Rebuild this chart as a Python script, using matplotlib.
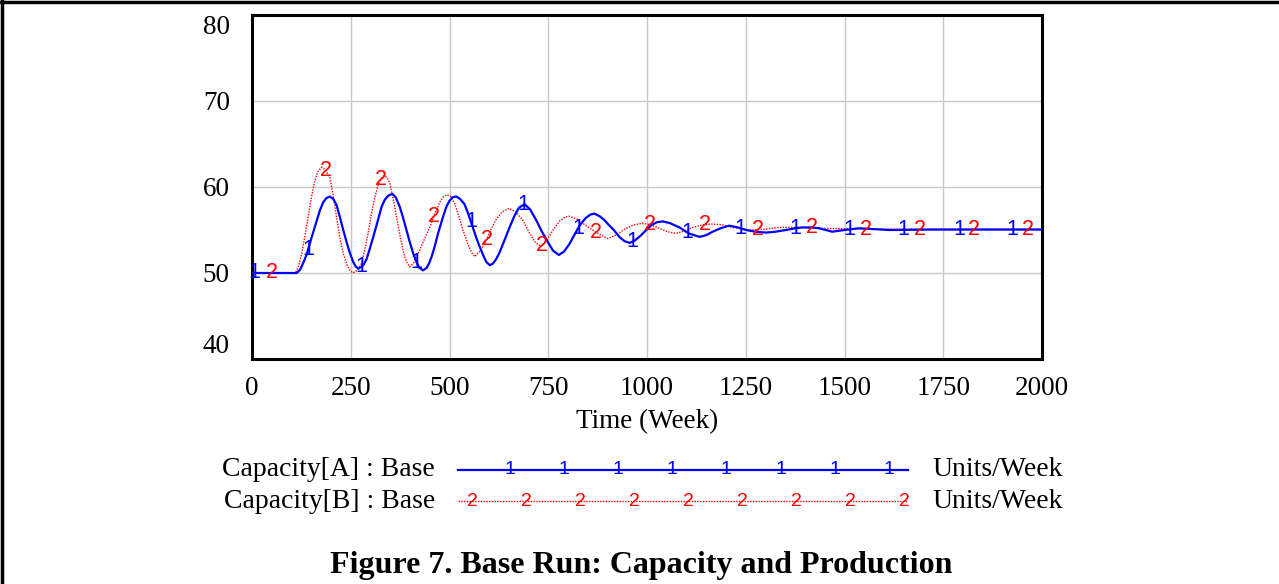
import numpy as np
import matplotlib
matplotlib.use("Agg")
import matplotlib.pyplot as plt
from matplotlib.lines import Line2D

# Capacity[A] : Base (blue, solid)
t_a = [0, 113, 122, 130, 138, 150, 164, 172, 180, 188, 197, 206, 214, 222, 231, 240,
       248, 256, 262, 269, 276, 283, 290, 298, 307, 318, 328, 336, 345, 355, 364, 374,
       382, 391, 400, 408, 416, 424, 433, 442, 448, 454, 462, 471, 482, 492, 500, 508,
       517, 527, 538, 548, 559, 567, 576, 585, 593, 602, 610, 618, 627, 640, 652, 664,
       676, 690, 704, 720, 734, 749, 762, 777, 790, 804, 817, 829, 845, 857, 867, 880,
       891, 901, 916, 930, 943, 956, 970, 985, 998, 1012, 1025, 1040, 1058, 1082, 1106,
       1133, 1150, 1166, 1186, 1208, 1230, 1251, 1275, 1301, 1325, 1352, 1375, 1394,
       1415, 1436, 1469, 1500, 1537, 1575, 1613, 1722, 2000]
cap_a = [50.0, 50.0, 50.4, 51.2, 52.1, 54.0, 56.1, 57.3, 58.2, 58.7, 58.9, 58.6, 57.9,
         56.6, 55.0, 53.5, 52.3, 51.3, 50.8, 50.5, 50.7, 51.0, 51.6, 52.8, 54.2, 56.0,
         57.7, 58.5, 59.0, 59.2, 58.8, 57.7, 56.5, 55.0, 53.5, 52.3, 51.3, 50.6, 50.3,
         50.6, 51.1, 51.8, 53.0, 54.6, 56.3, 57.7, 58.4, 58.8, 58.9, 58.6, 58.0, 56.8,
         55.3, 54.2, 53.1, 52.1, 51.3, 50.9, 51.1, 51.6, 52.4, 53.9, 55.3, 56.6, 57.6,
         58.0, 57.4, 56.1, 54.8, 53.6, 52.6, 52.1, 52.5, 53.4, 54.5, 55.5, 56.4, 56.8,
         56.9, 56.6, 56.2, 55.7, 55.0, 54.2, 53.7, 53.5, 53.8, 54.4, 55.0, 55.6, 55.9,
         56.0, 55.8, 55.3, 54.6, 54.2, 54.4, 54.8, 55.2, 55.5, 55.3, 55.0, 54.8, 54.7,
         54.8, 55.0, 55.2, 55.3, 55.3, 55.2, 54.8, 55.0, 55.2, 55.1, 55.0, 55.05, 55.05]

# Capacity[B] : Base (red, dotted)
t_b = [0, 110, 118, 126, 134, 142, 150, 159, 167, 176, 186, 197, 205, 214, 222, 231,
       240, 248, 256, 266, 277, 285, 294, 302, 311, 320, 327, 334, 342, 349, 357, 366,
       374, 382, 390, 399, 410, 425, 437, 450, 462, 475, 485, 494, 503, 513, 523, 534,
       548, 556, 564, 578, 593, 605, 619, 633, 650, 668, 686, 703, 718, 732, 746, 762,
       778, 792, 804, 825, 846, 872, 901, 925, 947, 968, 989, 1010, 1031, 1052, 1074,
       1095, 1116, 1140, 1166, 1190, 1217, 1240, 1267, 1300, 1335, 1385, 1436, 1550,
       1700, 2000]
cap_b = [50.0, 50.0, 50.8, 52.3, 54.3, 56.5, 58.7, 60.7, 61.8, 62.3, 62.0, 61.1, 59.2,
         56.5, 54.2, 52.3, 51.0, 50.3, 50.0, 50.3, 51.1, 52.6, 54.6, 56.8, 58.8, 60.3,
         61.0, 61.3, 61.1, 60.4, 58.7, 56.5, 54.5, 52.7, 51.4, 50.7, 51.2, 52.7, 54.0,
         55.3, 56.8, 58.2, 58.9, 59.1, 58.9, 58.1, 56.7, 55.0, 53.2, 52.4, 51.9, 52.6,
         53.8, 55.1, 56.3, 57.1, 57.5, 57.1, 56.1, 54.6, 53.5, 53.1, 53.8, 55.0, 56.0,
         56.5, 56.6, 56.2, 55.5, 54.7, 54.0, 54.5, 55.2, 55.6, 55.8, 55.6, 55.2, 54.8,
         54.6, 54.9, 55.3, 55.6, 55.7, 55.6, 55.3, 55.1, 55.0, 55.1, 55.3, 55.3, 55.2,
         55.1, 55.1, 55.1]

# where the Vensim style "1" / "2" markers sit along the curves
mark_a = [5, 142, 278, 417, 554, 688, 825, 964, 1102, 1236, 1375, 1512, 1648, 1790, 1926]
mark_b = [51, 187, 326, 460, 594, 733, 870, 1007, 1146, 1280, 1418, 1555, 1691, 1828, 1964]

x_ticks = [0, 250, 500, 750, 1000, 1250, 1500, 1750, 2000]
y_ticks = [40, 50, 60, 70, 80]

W, H = 1279, 584
fig = plt.figure(figsize=(W / 100, H / 100), dpi=100)
serif = "Liberation Serif"
sans = "Liberation Sans"

ax = fig.add_axes([252 / W, 1 - 359 / H, (1042 - 252) / W, (359 - 15) / H])
ax.plot(t_a, cap_a, color="#0000ff", lw=1.6, zorder=3)
ax.plot(t_b, cap_b, color="#ff0000", lw=1.0, ls=(0, (1, 1)), zorder=2)

for t in mark_a:
    ax.text(t, np.interp(t, t_a, cap_a), "1", color="#0000ff", family=sans,
            fontsize=15.5, ha="center", va="center", zorder=4)
for t in mark_b:
    ax.text(t, np.interp(t, t_b, cap_b), "2", color="#ff0000", family=sans,
            fontsize=15.5, ha="center", va="center", zorder=4)

ax.set_xlim(0, 2000)
ax.set_ylim(40, 80)
ax.set_xticks(x_ticks)
ax.set_yticks(y_ticks)
ax.grid(True, color="#c8c8c8", lw=1.0)
ax.set_axisbelow(True)
ax.tick_params(length=0, labelsize=19.5)
ax.tick_params(axis="y", pad=16)
ax.tick_params(axis="x", pad=12)
for lab in ax.get_xticklabels() + ax.get_yticklabels():
    lab.set_family(serif)
ylabs = ax.get_yticklabels()
ylabs[0].set_va("bottom")
ylabs[-1].set_va("top")
for s in ax.spines.values():
    s.set_linewidth(2.2)
ax.set_xlabel("Time (Week)", family=serif, fontsize=19.5, labelpad=6)

# legend, drawn in figure pixels
def fx(px):
    return px / W

def fy(py):
    return 1 - py / H

rows = [("Capacity[A] : Base", "#0000ff", "-", 1.6, "1", 510, 8, 470),
        ("Capacity[B] : Base", "#ff0000", (0, (1, 1)), 1.0, "2", 472, 9, 501)]
for label, col, ls, lw, glyph, x0, n, py in rows:
    fig.text(fx(435), fy(py), label, family=serif, fontsize=20, ha="right", va="center")
    fig.add_artist(Line2D([fx(458), fx(908)], [fy(py), fy(py)], color=col, ls=ls, lw=lw))
    for k in range(n):
        fig.text(fx(x0 + 54.1 * k), fy(py), glyph, color=col, family=sans,
                 fontsize=14, ha="center", va="center")
    fig.text(fx(932), fy(py), "Units/Week", family=serif, fontsize=20, ha="left", va="center")

fig.text(fx(641), fy(565), "Figure 7. Base Run: Capacity and Production",
         family=serif, fontsize=23, weight="bold", ha="center", va="center")

# page border (top and left)
fig.add_artist(Line2D([0, 1], [fy(1.5), fy(1.5)], color="black", lw=2.5))
fig.add_artist(Line2D([fx(1.5), fx(1.5)], [0, 1], color="black", lw=2.5))

fig.savefig("out.png", dpi=100)
